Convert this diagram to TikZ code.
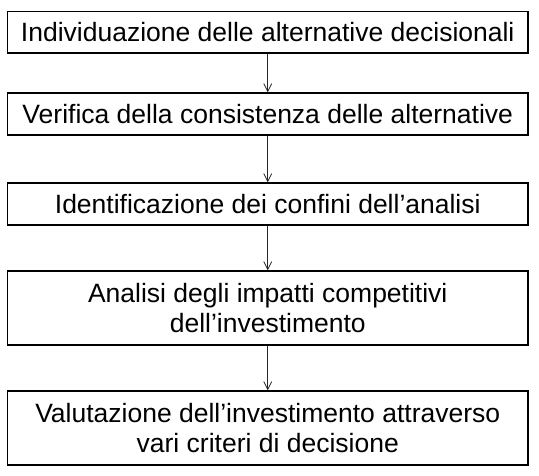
\documentclass[tikz,border=0pt]{standalone}
\usepackage{fontspec}
\setmainfont{Liberation Sans}
\usetikzlibrary{arrows.meta}
\begin{document}
\begin{tikzpicture}[x=1pt,y=-1pt,
  stepbox/.style={draw=black,line width=1.1pt,minimum width=520.5pt,inner sep=0pt,
    align=center,font=\fontsize{26.5}{30}\selectfont},
  flow/.style={draw=black!85,line width=0.8pt,-{Straight Barb[length=8pt,width=8pt]}}]
\useasboundingbox (0,0) rectangle (539,475);
\node[stepbox,minimum height=41.5pt] (b1) at (267.75,32.25) {Individuazione delle alternative decisionali};
\node[stepbox,minimum height=42pt] (b2) at (267.75,114) {Verifica della consistenza delle alternative};
\node[stepbox,minimum height=42pt] (b3) at (267.75,204) {Identificazione dei confini dell’analisi};
\node[stepbox,minimum height=74pt] (b4) at (267.75,308) {Analisi degli impatti competitivi\\dell’investimento};
\node[stepbox,minimum height=74pt] (b5) at (267.75,428) {Valutazione dell’investimento attraverso\\vari criteri di decisione};
\draw[flow] (b1) -- (b2);
\draw[flow] (b2) -- (b3);
\draw[flow] (b3) -- (b4);
\draw[flow] (b4) -- (b5);
\end{tikzpicture}
\end{document}
